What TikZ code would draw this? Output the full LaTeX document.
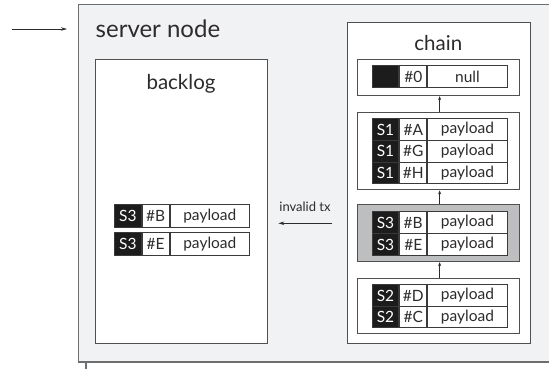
\documentclass[tikz,border=0pt]{standalone}
\usepackage{fontspec}
\setmainfont{Lato}
\usetikzlibrary{arrows.meta}
\definecolor{outerfill}{HTML}{F1F2F4}
\definecolor{outerline}{HTML}{6D6E70}
\definecolor{boxline}{HTML}{505050}
\definecolor{cellline}{HTML}{3A3A3A}
\definecolor{blackcell}{HTML}{1C1C1C}
\definecolor{grayblock}{HTML}{BDBEC0}
\definecolor{txt}{HTML}{2E2B2C}
\tikzset{
  cellbase/.style={draw=cellline, line width=0.9pt, inner sep=0pt, minimum height=21.7pt, font=\fontsize{15.5}{16}\selectfont, text=txt},
  cellS/.style={cellbase, fill=blackcell, text=white, minimum width=26.7pt, anchor=north west},
  cellH/.style={cellbase, fill=white, minimum width=27pt, anchor=west},
  cellP/.style={cellbase, fill=white, minimum width=79.7pt, anchor=west},
  container/.style={draw=boxline, line width=1.1pt, fill=white, inner sep=0pt, anchor=north west},
  blockbox/.style={draw=boxline, line width=1.1pt, fill=white, inner sep=0pt, anchor=north west, minimum width=162pt},
  title/.style={font=\fontsize{20.5}{22}\selectfont, text=txt, anchor=base, inner sep=0pt},
  linkarrow/.style={-{Stealth[length=4pt,width=3pt]}, line width=0.7pt, draw=txt},
  flowarrow/.style={-{Stealth[length=6pt,width=3.5pt]}, line width=0.8pt, draw=txt},
}
\newcommand\txrow[6]{%
  \node[cellS, minimum height=#6] (#1s) at (#2) {#3};
  \node[cellH, minimum height=#6] (#1h) at (#1s.east) {#4};
  \node[cellP, minimum height=#6] (#1p) at (#1h.east) {#5};
}
\begin{document}
\begin{tikzpicture}[x=1pt,y=-1pt]
\useasboundingbox (0,0) rectangle (549,368);
\clip (0,0) rectangle (549,368);
% outer server node box
\draw[outerline, line width=1.4pt, fill=outerfill] (78.5,4.7) rectangle (570,362);
\draw[outerline, line width=1.2pt] (86,362) -- (86,370);
\node[font=\fontsize{24}{26}\selectfont, text=txt, anchor=base west, inner sep=0pt] (servertitle) at (95.5,37) {server node};
% entry arrow
\coordinate (inA) at (12,29);
\coordinate (inB) at (67,29);
\draw[flowarrow] (inA) -- (inB);
% backlog
\node[container, minimum width=172.3pt, minimum height=283.4pt] (backlog) at (95,59.3) {};
\node[title] (backlogtitle) at (181,89) {backlog};
\txrow{bB}{114,204.3}{S3}{\#B}{payload}{22.4pt}
\txrow{bE}{114,232.3}{S3}{\#E}{payload}{22.4pt}
% chain
\node[container, minimum width=183.3pt, minimum height=320.4pt] (chain) at (346.7,22.3) {};
\node[title] (chaintitle) at (438.3,50) {chain};
% blocks
\node[blockbox, minimum height=36pt] (b0) at (357.3,59) {};
\node[blockbox, minimum height=77pt] (b1) at (357.3,112.3) {};
\node[blockbox, minimum height=56.7pt, fill=grayblock] (b2) at (357.3,204.3) {};
\node[blockbox, minimum height=54.4pt] (b3) at (357.3,278.3) {};
% rows
\txrow{z}{371.7,65}{}{\#0}{null}{22.3pt}
\txrow{a}{371.7,118.3}{S1}{\#A}{payload}{21.7pt}
\txrow{g}{371.7,140}{S1}{\#G}{payload}{21.7pt}
\txrow{h}{371.7,161.7}{S1}{\#H}{payload}{21.6pt}
\txrow{sb}{371.7,211}{S3}{\#B}{payload}{22.3pt}
\txrow{se}{371.7,233.3}{S3}{\#E}{payload}{21.4pt}
\txrow{d}{371.7,284.3}{S2}{\#D}{payload}{21.4pt}
\txrow{c}{371.7,305.7}{S2}{\#C}{payload}{21.6pt}
% links
\draw[linkarrow] ([xshift=0.8pt]b1.north) -- ([xshift=0.8pt]b0.south);
\draw[linkarrow] ([xshift=0.8pt]b2.north) -- ([xshift=0.8pt]b1.south);
\draw[linkarrow] ([xshift=0.8pt]b3.north) -- ([xshift=0.8pt]b2.south);
% invalid tx
\coordinate (invA) at (331.7,223.3);
\coordinate (invB) at (278.3,223.3);
\draw[flowarrow] (invA) -- (invB);
\node[font=\fontsize{13}{14}\selectfont, text=txt, anchor=base, inner sep=0pt] (invlabel) at (305,211.7) {invalid tx};
\end{tikzpicture}
\end{document}
